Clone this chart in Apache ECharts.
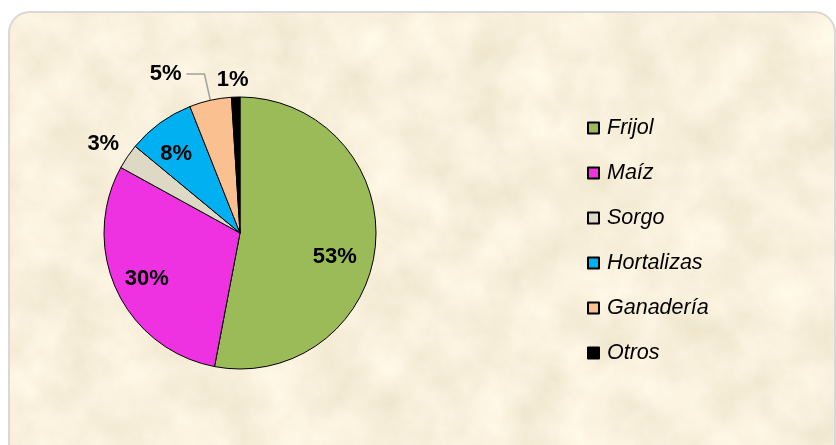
<!DOCTYPE html>
<html>
<head>
<meta charset="utf-8">
<script src="https://cdn.jsdelivr.net/npm/echarts@6/dist/echarts.min.js"></script>
<style>
  html, body { margin: 0; padding: 0; background: #fff; }
  #wrap { position: relative; width: 836px; height: 445px; overflow: hidden; }
  #paper {
    position: absolute; left: 8px; top: 11px; width: 824px; height: 460px;
    border: 2px solid #d8d8d8; border-radius: 22px; overflow: hidden;
    background: #efdcb4;
  }
  #paper svg { position: absolute; left: 0; top: 0; }
  #chart { position: absolute; left: 0; top: 0; width: 836px; height: 445px; }
</style>
</head>
<body>
<div id="wrap">
  <div id="paper">
    <svg width="830" height="470">
      <filter id="parch" x="0" y="0" width="100%" height="100%">
        <feTurbulence type="fractalNoise" baseFrequency="0.02" numOctaves="4" seed="7"/>
        <feColorMatrix type="matrix" values="0.2 0 0 0 0.84  0.22 0 0 0 0.76  0.26 0 0 0 0.58  0 0 0 0 1"/>
      </filter>
      <rect width="830" height="470" filter="url(#parch)"/>
    </svg>
  </div>
  <div id="chart"></div>
</div>
<script>
const categories = ['Frijol', 'Maíz', 'Sorgo', 'Hortalizas', 'Ganadería', 'Otros']
const values = [53, 30, 3, 8, 5, 1]
const colors = ['#9bbb59', '#ee32e2', '#ddd9c4', '#00b0f0', '#fac090', '#000000']

// label nudges from the default inside spot (Excel places them its own way)
const labelShift = [[24, 17], [-29, 16], [-78, -49], [-22, -22], null, [-5, -82]]

const chart = echarts.init(document.getElementById('chart'))

chart.setOption({
  backgroundColor: 'transparent',
  animation: false,
  legend: {
    orient: 'vertical',
    left: 587,
    top: 116,
    padding: 0,
    itemWidth: 11,
    itemHeight: 11,
    itemGap: 21,
    icon: 'rect',
    data: categories,
    textStyle: {
      fontFamily: 'Liberation Sans, Arial, sans-serif',
      fontStyle: 'italic',
      fontSize: 21.5,
      lineHeight: 24,
      color: '#000',
      padding: [0, 0, 0, 3]
    }
  },
  series: [{
    type: 'pie',
    center: [240, 233],
    radius: 136,
    startAngle: 90,
    clockwise: true,
    avoidLabelOverlap: false,
    itemStyle: {
      borderColor: '#000',
      borderWidth: 1
    },
    label: {
      show: true,
      position: 'inside',
      formatter: '{c}%',
      color: '#000',
      fontFamily: 'Liberation Sans, Arial, sans-serif',
      fontWeight: 'bold',
      fontSize: 22
    },
    labelLine: { show: false },
    labelLayout: function (params) {
      const s = labelShift[params.dataIndex]
      if (!s) return
      return { dx: s[0], dy: s[1] }
    },
    data: categories.map(function (name, i) {
      const item = {
        name: name,
        value: values[i],
        itemStyle: { color: colors[i] }
      }
      if (name === 'Ganadería') {
        item.label = { position: 'outside', distanceToLabelLine: 5, lineHeight: 34, verticalAlign: 'top' }
        item.labelLine = {
          show: true,
          length: 27,
          length2: 18,
          lineStyle: { color: '#a0a0a0', width: 1.5 }
        }
      }
      return item
    })
  }]
})
</script>
</body>
</html>
